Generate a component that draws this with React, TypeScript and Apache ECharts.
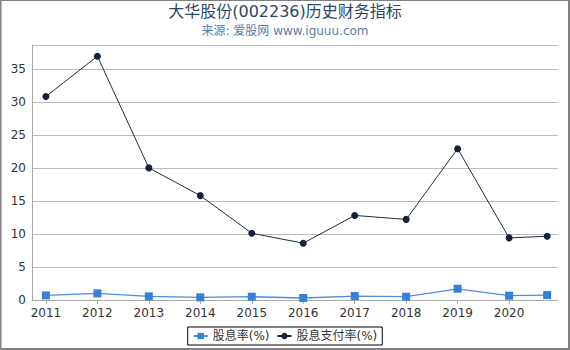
import React, { useEffect, useRef } from "react";
import * as echarts from "echarts";

const years = [2011, 2012, 2013, 2014, 2015, 2016, 2017, 2018, 2019, 2020, 2020.74];
const tickYears = [2011, 2012, 2013, 2014, 2015, 2016, 2017, 2018, 2019, 2020];
const dividendYield = [0.7, 1.0, 0.55, 0.4, 0.5, 0.3, 0.6, 0.5, 1.7, 0.65, 0.75];
const payoutRatio = [30.8, 36.9, 20.0, 15.8, 10.1, 8.6, 12.8, 12.2, 22.9, 9.4, 9.65];
const seriesNames = ["股息率(%)", "股息支付率(%)"];

export default function App() {
  const ref = useRef<HTMLDivElement>(null);
  useEffect(() => {
    if (!ref.current) return;
    const chart = echarts.init(ref.current, null, { renderer: "svg" });
    const font = "DejaVu Sans, Noto Sans CJK SC, sans-serif";
    chart.setOption({
      animation: false,
      backgroundColor: "#fff",
      textStyle: { fontFamily: font },
      title: {
        text: "大华股份(002236)历史财务指标",
        subtext: "来源: 爱股网 www.iguuu.com",
        left: "center",
        top: 3,
        padding: 0,
        itemGap: 6,
        textStyle: { fontSize: 16, fontWeight: "normal", color: "#2c4668", fontFamily: font },
        subtextStyle: { fontSize: 12, color: "#5b7ca6", fontFamily: font },
      },
      legend: {
        left: "center",
        top: 327,
        padding: [3, 5],
        itemGap: 7,
        itemWidth: 14,
        itemHeight: 8,
        borderColor: "#000",
        borderWidth: 1,
        borderRadius: 0,
        textStyle: { fontSize: 12, color: "#333", fontFamily: font },
        data: seriesNames,
      },
      grid: { left: 32, right: 12, top: 45, bottom: 50, containLabel: false },
      xAxis: {
        type: "value",
        min: 2010.73,
        max: 2020.95,
        splitLine: { show: false },
        axisLine: { lineStyle: { color: "#aaa" } },
        axisTick: { show: true, length: 4, lineStyle: { color: "#aaa" }, customValues: tickYears },
        axisLabel: {
          customValues: tickYears,
          fontSize: 12,
          color: "#333",
          margin: 7,
          fontFamily: font,
          formatter: (v: number) => String(Math.round(v)),
        },
      },
      yAxis: {
        type: "value",
        min: 0,
        max: 38.6,
        interval: 5,
        axisLine: { show: true, lineStyle: { color: "#aaa" } },
        axisTick: { show: false },
        splitLine: { lineStyle: { color: "#bbb" } },
        axisLabel: {
          fontSize: 12,
          color: "#333",
          margin: 6,
          fontFamily: font,
          showMaxLabel: false,
        },
      },
      series: [
        {
          name: seriesNames[0],
          type: "line",
          data: years.map((y, i) => [y, dividendYield[i]]),
          symbol: "rect",
          symbolSize: 8,
          itemStyle: { color: "#3680d8" },
          lineStyle: { color: "#4a8fe0", width: 1.3 },
        },
        {
          name: seriesNames[1],
          type: "line",
          data: years.map((y, i) => [y, payoutRatio[i]]),
          symbol: "circle",
          symbolSize: 7,
          itemStyle: { color: "#14213a" },
          lineStyle: { color: "#1e2d47", width: 1 },
        },
      ],
      graphic: [
        { type: "rect", shape: { x: 0, y: 0, width: 570, height: 1 }, style: { fill: "#808080" } },
        { type: "rect", shape: { x: 0, y: 0, width: 1.5, height: 350 }, style: { fill: "#808080" } },
        { type: "rect", shape: { x: 568, y: 0, width: 2, height: 350 }, style: { fill: "#808080" } },
        { type: "rect", shape: { x: 0, y: 348, width: 570, height: 2 }, style: { fill: "#808080" } },
      ],
    });
    return () => chart.dispose();
  }, []);
  return (
    <div
      ref={ref}
      style={{ position: "absolute", left: 0, top: 0, width: 570, height: 350 }}
    />
  );
}
